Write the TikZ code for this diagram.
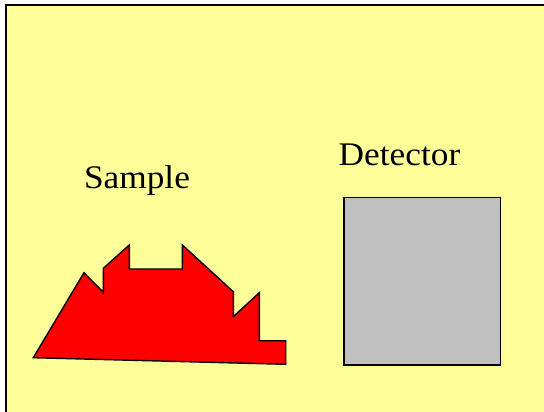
\documentclass[tikz,border=0pt]{standalone}
\usepackage{fontspec}
\setmainfont{Liberation Serif}
\definecolor{bgyellow}{HTML}{FFFF99}
\definecolor{detgray}{HTML}{C0C0C0}
\tikzset{
  outline/.style={draw=black, line width=1.4pt, line join=miter},
  lbl/.style={anchor=base, inner sep=0pt, font=\fontsize{33}{33}\selectfont, xscale=1.07},
}
\begin{document}
\begin{tikzpicture}[x=1pt, y=-1pt]
\useasboundingbox (0,0) rectangle (544,412);
\fill[white] (0,0) rectangle (544,412);
\draw[fill=bgyellow, line width=1.6pt] (6,5) rectangle (560,430);
% sample
\draw[outline, fill=red] (33.3,357.7) -- (84,272.7) -- (103.3,292.3) -- (103.3,268.3)
  -- (129.3,245) -- (129.3,269) -- (182.3,269) -- (182.3,245) -- (233.3,291.7)
  -- (233.3,316.7) -- (259.3,292.7) -- (259.3,340.7) -- (285.7,340.7)
  -- (285.7,364.3) -- cycle;
% detector
\node[outline, fill=detgray, minimum width=156.7pt, minimum height=167.3pt, inner sep=0pt, anchor=north west] (det) at (343.3,197) {};
\node[lbl] (samplelbl) at (137,188.3) {Sample};
\node[lbl] (detlbl) at (399.5,165) {Detector};
\end{tikzpicture}
\end{document}
